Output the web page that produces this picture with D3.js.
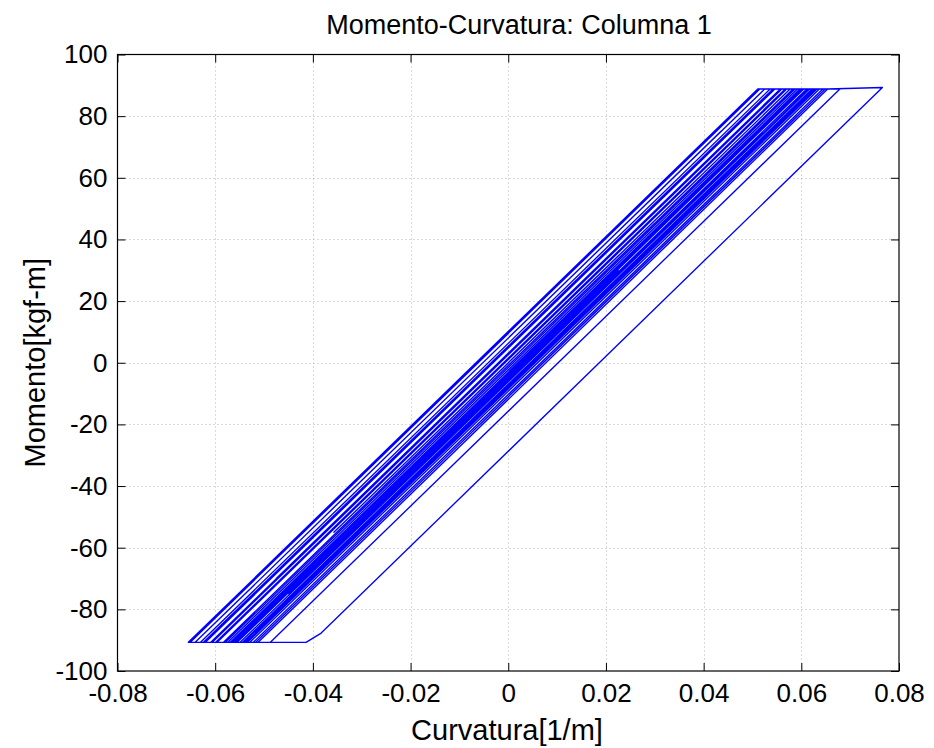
<!DOCTYPE html>
<html>
<head>
<meta charset="utf-8">
<script src="https://cdn.jsdelivr.net/npm/d3@7"></script>
<style>
  html, body { margin: 0; padding: 0; background: #fff; }
  svg { display: block; font-family: "Liberation Sans", Arial, sans-serif; }
</style>
</head>
<body>
<svg id="chart" width="934" height="748"></svg>
<script>
// Moment-curvature response of column 1: vertices of the hysteresis path, in order.
const curvature = [
  0, 0.0227, -0.0162, 0.0390, -0.0357, 0.0577, 0.0597, -0.0569, -0.0620, 0.0546,
  0.0611, -0.0356, 0.0489, -0.0555, -0.0606, 0.0560, 0.0632, -0.0534, -0.0583, 0.0298,
  -0.0254, 0.0583, 0.0622, -0.0544, -0.0630, 0.0536, 0.0570, -0.0596, -0.0655, 0.0511,
  0.0525, -0.0377, 0.0525, 0.0542, -0.0624, -0.0641, 0.0435, -0.0641, -0.0651, 0.0515,
  0.0587, -0.0579, -0.0609, 0.0305, -0.0475, 0.0557, 0.0644, -0.0128, 0.0424, -0.0522,
  -0.0569, 0.0597, 0.0654, -0.0345, 0.0337, -0.0512, -0.0561, 0.0605, 0.0617, -0.0549,
  -0.0565, 0.0446, -0.0268, 0.0601, 0.0637, -0.0529, -0.0541, 0.0625, 0.0649, -0.0058,
  0.0591, -0.0517, -0.0559, 0.0225, -0.0559, -0.0574, 0.0592, 0.0629, -0.0537, -0.0599,
  0.0567, 0.0615, -0.0449, 0.0615, 0.0625, 0.0679, -0.0487, -0.0512, 0.0654, 0.0766,
  -0.0383, -0.0414, -0.0500
];
const moment = [
  0, 35, -25, 60, -55, 88.8, 88.8, -90.7, -90.7, 88.8,
  88.8, -60, 70, -90.7, -90.7, 88.8, 88.8, -90.7, -90.7, 45,
  -40, 88.8, 88.8, -90.7, -90.7, 88.8, 88.8, -90.7, -90.7, 88.8,
  88.8, -50, 88.8, 88.8, -90.7, -90.7, 75, -90.7, -90.7, 88.8,
  88.8, -90.7, -90.7, 50, -70, 88.8, 88.8, -30, 55, -90.7,
  -90.7, 88.8, 88.8, -65, 40, -90.7, -90.7, 88.8, 88.8, -90.7,
  -90.7, 65, -45, 88.8, 88.8, -90.7, -90.7, 88.8, 88.8, -20,
  80, -90.7, -90.7, 30, -90.7, -90.7, 88.8, 88.8, -90.7, -90.7,
  88.8, 88.8, -75, 88.8, 88.8, 88.8, -90.7, -90.7, 88.8, 89.3,
  -87.7, -90.7, -90.7
];

const xTicks = [-0.08, -0.06, -0.04, -0.02, 0, 0.02, 0.04, 0.06, 0.08];
const yTicks = [-100, -80, -60, -40, -20, 0, 20, 40, 60, 80, 100];

const titleText = "Momento-Curvatura: Columna 1";
const xLabel = "Curvatura[1/m]";
const yLabel = "Momento[kgf-m]";

const box = { left: 117.5, right: 899, top: 54.5, bottom: 671 };

const svg = d3.select("#chart");

const x = d3.scaleLinear().domain([-0.08, 0.08]).range([box.left, box.right]);
const y = d3.scaleLinear().domain([-100, 100]).range([box.bottom, box.top]);

// plain hyphen for negatives
const fmtX = v => String(+v.toFixed(2));
const fmtY = v => String(v);

// grid
const grid = svg.append("g")
  .attr("stroke", "#b4b4b4")
  .attr("stroke-width", 1)
  .attr("stroke-dasharray", "1,3")
  .attr("fill", "none");
grid.selectAll("line.gx")
  .data(xTicks.slice(1, -1))
  .join("line")
  .attr("x1", d => Math.round(x(d)) + 0.5).attr("x2", d => Math.round(x(d)) + 0.5)
  .attr("y1", box.top).attr("y2", box.bottom);
grid.selectAll("line.gy")
  .data(yTicks.slice(1, -1))
  .join("line")
  .attr("y1", d => Math.round(y(d)) + 0.5).attr("y2", d => Math.round(y(d)) + 0.5)
  .attr("x1", box.left).attr("x2", box.right);

// data path
const pts = curvature.map((k, i) => [k, moment[i]]);
svg.append("path")
  .datum(pts)
  .attr("fill", "none")
  .attr("stroke", "#0000ff")
  .attr("stroke-width", 1.35)
  .attr("stroke-linejoin", "round")
  .attr("d", d3.line().x(d => x(d[0])).y(d => y(d[1])));

// axes (ticks drawn inward, mirrored on top and right)
const tickLen = 8;
const axisStyle = g => {
  g.select(".domain").remove();
  g.selectAll(".tick line").attr("stroke", "#000").attr("stroke-width", 1);
  g.selectAll(".tick text")
    .attr("fill", "#000")
    .attr("font-size", 26)
    .attr("font-family", "Liberation Sans, Arial, sans-serif");
};

svg.append("g")
  .attr("transform", `translate(0,${box.bottom})`)
  .call(d3.axisBottom(x).tickValues(xTicks).tickFormat(fmtX)
        .tickSizeInner(-tickLen).tickSizeOuter(0).tickPadding(13))
  .call(axisStyle);

svg.append("g")
  .attr("transform", `translate(0,${box.top})`)
  .call(d3.axisTop(x).tickValues(xTicks).tickFormat("")
        .tickSizeInner(-tickLen).tickSizeOuter(0))
  .call(axisStyle);

svg.append("g")
  .attr("transform", `translate(${box.left},0)`)
  .call(d3.axisLeft(y).tickValues(yTicks).tickFormat(fmtY)
        .tickSizeInner(-tickLen).tickSizeOuter(0).tickPadding(10))
  .call(axisStyle);

svg.append("g")
  .attr("transform", `translate(${box.right},0)`)
  .call(d3.axisRight(y).tickValues(yTicks).tickFormat("")
        .tickSizeInner(-tickLen).tickSizeOuter(0))
  .call(axisStyle);

// frame
svg.append("rect")
  .attr("x", box.left).attr("y", box.top)
  .attr("width", box.right - box.left).attr("height", box.bottom - box.top)
  .attr("fill", "none").attr("stroke", "#000").attr("stroke-width", 1.2);

// title and axis labels
svg.append("text")
  .attr("x", 519).attr("y", 34)
  .attr("text-anchor", "middle")
  .attr("font-size", 27)
  .text(titleText);

svg.append("text")
  .attr("x", 507).attr("y", 740)
  .attr("text-anchor", "middle")
  .attr("font-size", 29)
  .text(xLabel);

svg.append("text")
  .attr("transform", `translate(45,${(box.top + box.bottom) / 2}) rotate(-90)`)
  .attr("text-anchor", "middle")
  .attr("font-size", 29)
  .text(yLabel);
</script>
</body>
</html>
